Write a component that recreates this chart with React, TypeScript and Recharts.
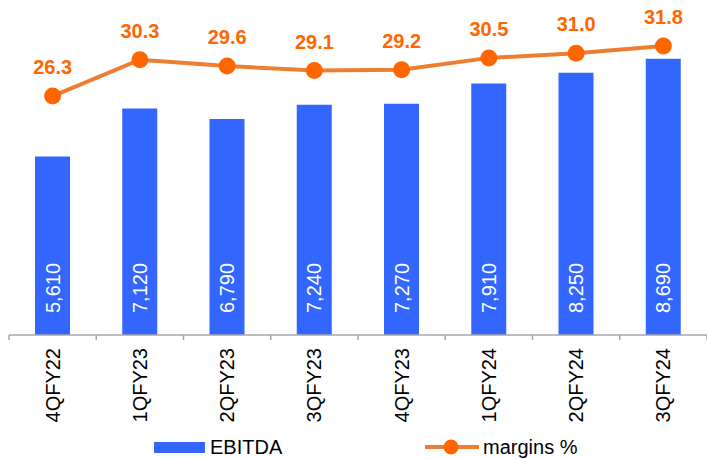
import { ComposedChart, Bar, Line, XAxis, YAxis, LabelList, Legend } from "recharts";

const quarters = ["4QFY22", "1QFY23", "2QFY23", "3QFY23", "4QFY23", "1QFY24", "2QFY24", "3QFY24"];
const ebitda = [5610, 7120, 6790, 7240, 7270, 7910, 8250, 8690];
const margins = [26.3, 30.3, 29.6, 29.1, 29.2, 30.5, 31.0, 31.8];

const BLUE = "#3366FF";
const ORANGE = "#FF6600";
const LINE_ORANGE = "#ED7D31";
const AXIS_GREY = "#A6A6A6";
const FONT = "'Liberation Sans', Arial, sans-serif";

const data = quarters.map((q, i) => ({ name: q, ebitda: ebitda[i], margin: margins[i] }));

// rotated category label under the axis, plus the tick mark on the left category edge
const QuarterTick = (props: any) => {
  const { x, y, payload, index } = props;
  const half = payload?.offset ?? 0;
  const ty = y + 13;
  return (
    <g>
      <line x1={x - half} y1={y} x2={x - half} y2={y + 5} stroke={AXIS_GREY} strokeWidth={1.5} />
      {index === quarters.length - 1 && (
        <line x1={x + half} y1={y} x2={x + half} y2={y + 5} stroke={AXIS_GREY} strokeWidth={1.5} />
      )}
      <text
        x={x}
        y={ty}
        transform={`rotate(-90 ${x} ${ty})`}
        textAnchor="end"
        dominantBaseline="central"
        fontSize={20}
        fontFamily={FONT}
        fill="#000"
      >
        {payload.value}
      </text>
    </g>
  );
};

// value written upwards inside the bar, near its base
const BarValue = (props: any) => {
  const { x, y, width, height, value } = props;
  const cx = x + width / 2;
  const cy = y + height - 22;
  return (
    <text
      x={cx}
      y={cy}
      transform={`rotate(-90 ${cx} ${cy})`}
      textAnchor="start"
      dominantBaseline="central"
      fontSize={20}
      fontFamily={FONT}
      fill="#fff"
    >
      {Number(value).toLocaleString("en-US")}
    </text>
  );
};

const MarginValue = (props: any) => {
  const { x, y, value } = props;
  return (
    <text
      x={x}
      y={y - 29}
      textAnchor="middle"
      dominantBaseline="central"
      fontSize={20}
      fontWeight="bold"
      fontFamily={FONT}
      fill={ORANGE}
    >
      {Number(value).toFixed(1)}
    </text>
  );
};

const LegendContent = () => (
  <svg width={707} height={24} style={{ display: "block" }}>
    <rect x={154} y={7} width={51} height={11} fill={BLUE} />
    <text x={210} y={12} dominantBaseline="central" fontSize={20} fontFamily={FONT} fill="#000">
      EBITDA
    </text>
    <line x1={425} y1={12} x2={479} y2={12} stroke={LINE_ORANGE} strokeWidth={4} />
    <circle cx={451} cy={12} r={7.5} fill={ORANGE} />
    <text x={483} y={12} dominantBaseline="central" fontSize={20} fontFamily={FONT} fill="#000">
      margins %
    </text>
  </svg>
);

export default function App() {
  return (
    <div style={{ position: "absolute", left: 0, top: 0, background: "#fff" }}>
      <ComposedChart width={707} height={459} data={data} margin={{ top: 17, right: 0, bottom: 0, left: 9 }}>
        <XAxis
          dataKey="name"
          axisLine={{ stroke: AXIS_GREY, strokeWidth: 1.5 }}
          tickLine={false}
          tickSize={0}
          tickMargin={0}
          height={100}
          interval={0}
          tick={<QuarterTick />}
        />
        <YAxis yAxisId="left" hide domain={[0, 10000]} />
        <YAxis yAxisId="right" orientation="right" hide domain={[0, 35]} />
        <Legend verticalAlign="bottom" height={24} content={<LegendContent />} wrapperStyle={{ left: 0, width: 707 }} />
        <Bar yAxisId="left" dataKey="ebitda" fill={BLUE} barSize={35} isAnimationActive={false}>
          <LabelList dataKey="ebitda" content={<BarValue />} />
        </Bar>
        <Line
          yAxisId="right"
          dataKey="margin"
          stroke={LINE_ORANGE}
          strokeWidth={4}
          dot={{ r: 8.5, fill: ORANGE, stroke: ORANGE, strokeWidth: 0 }}
          isAnimationActive={false}
        >
          <LabelList dataKey="margin" content={<MarginValue />} />
        </Line>
      </ComposedChart>
    </div>
  );
}
